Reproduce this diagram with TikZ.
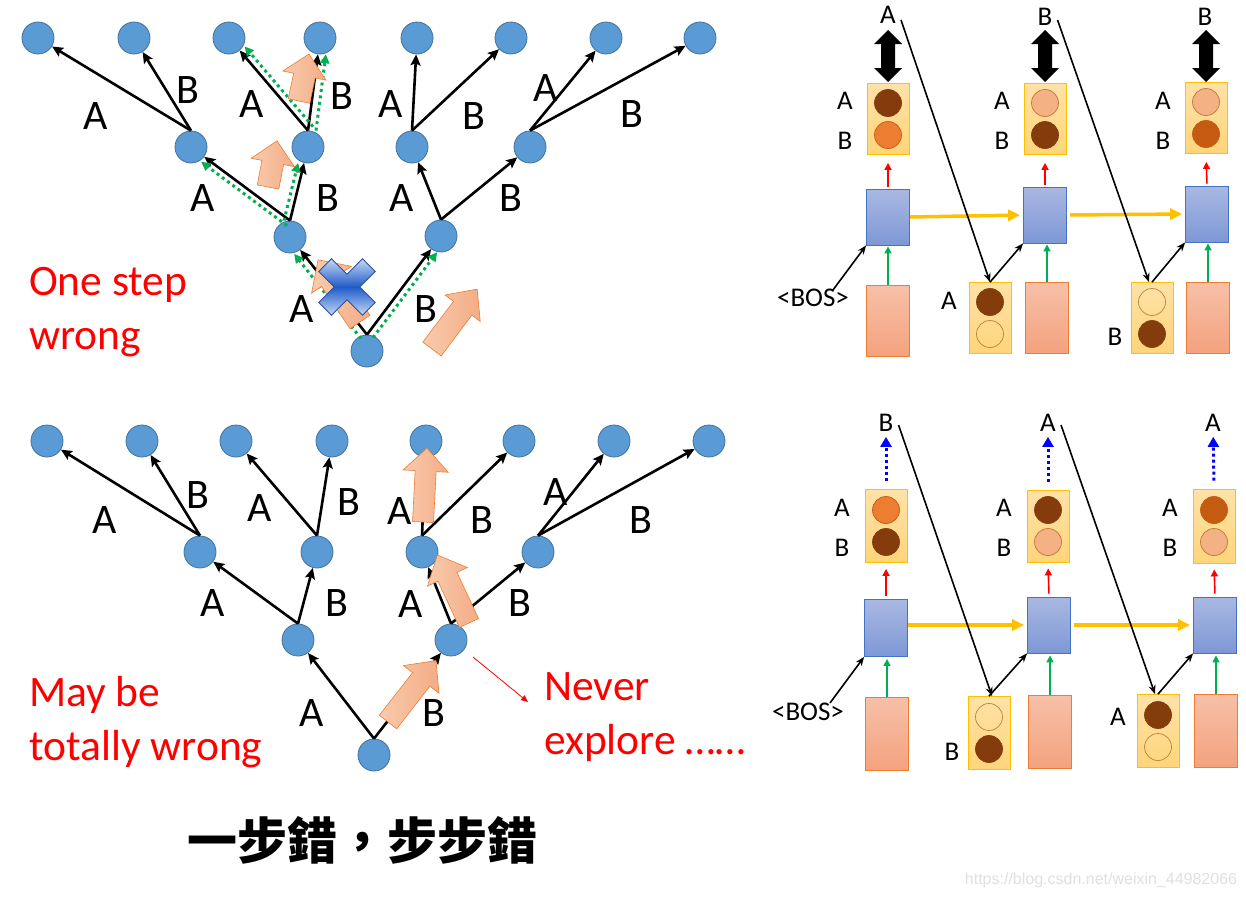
\documentclass[tikz,border=0pt]{standalone}
\usepackage{fontspec}
\setmainfont{Carlito}
\newfontfamily\cjkfont{Noto Sans CJK TC}
\newfontfamily\wmfont{Liberation Sans}
\usetikzlibrary{arrows.meta,calc}
\definecolor{nodeblue}{HTML}{5B9BD5}
\definecolor{nodeborder}{HTML}{41719C}
\definecolor{dgreen}{HTML}{00B050}
\definecolor{arrL}{HTML}{F8CBAD}
\definecolor{arrR}{HTML}{F4AC86}
\definecolor{arrD}{HTML}{ED7D31}
\definecolor{ybT}{HTML}{FFE2A8}
\definecolor{ybB}{HTML}{FFD57A}
\definecolor{yborder}{HTML}{FFC000}
\definecolor{bbT}{HTML}{A9B8E2}
\definecolor{bbB}{HTML}{7E98D6}
\definecolor{bborder}{HTML}{4472C4}
\definecolor{pbT}{HTML}{F7C0A8}
\definecolor{pbB}{HTML}{F4A27E}
\definecolor{pborder}{HTML}{ED7D31}
\definecolor{dkbrown}{HTML}{843C0C}
\definecolor{orng}{HTML}{ED7D31}
\definecolor{orngb}{HTML}{C55A11}
\definecolor{dorng}{HTML}{C55A11}
\definecolor{salm}{HTML}{F4B183}
\definecolor{salmb}{HTML}{C0763A}
\definecolor{holb}{HTML}{C0803A}
\definecolor{yarrow}{HTML}{FFC000}
\definecolor{bluedot}{HTML}{0000FF}
\definecolor{xborder}{HTML}{2F4F9F}
\definecolor{xlight}{HTML}{C4DAF6}
\definecolor{xdark}{HTML}{1F5BC8}

\tikzset{
  tn/.style={circle,fill=nodeblue,draw=nodeborder,line width=0.8pt,minimum size=32pt,inner sep=0pt},
  edge/.style={line width=2.6pt,-{Stealth[length=11pt,width=10pt,inset=2pt]}},
  gdot/.style={draw=dgreen,line width=3pt,dash pattern=on 3pt off 3.5pt,-{Triangle[length=9pt,width=9pt,fill=dgreen]}},
  lab/.style={font=\fontsize{42}{42}\selectfont,inner sep=0pt},
  redtxt/.style={font=\fontsize{43.5}{54}\selectfont,text=red,align=left,inner sep=0pt},
  rlab/.style={font=\fontsize{27}{27}\selectfont,inner sep=1pt},
  ybox/.style={draw=yborder,line width=0.8pt,top color=ybT,bottom color=ybB,minimum width=42pt,minimum height=71pt,inner sep=0pt},
  bbox/.style={draw=bborder,line width=0.8pt,top color=bbT,bottom color=bbB,minimum width=43pt,minimum height=56pt,inner sep=0pt},
  pbox/.style={draw=pborder,line width=0.8pt,top color=pbT,bottom color=pbB,minimum width=43pt,minimum height=71pt,inner sep=0pt},
  lamp/.style={circle,minimum size=27pt,inner sep=0pt,line width=0.7pt},
  dk/.style={lamp,fill=dkbrown,draw=dkbrown},
  og/.style={lamp,fill=orng,draw=orngb},
  dog/.style={lamp,fill=dorng,draw=dorng},
  sal/.style={lamp,fill=salm,draw=salmb},
  hol/.style={lamp,draw=holb},
  blk/.style={line width=1.6pt,-{Stealth[length=9pt,width=7pt]}},
  redarr/.style={draw=red,line width=1.6pt,-{Triangle[length=7pt,width=7pt]}},
  grnarr/.style={draw=dgreen,line width=1.6pt,-{Triangle[length=7pt,width=7pt]}},
  yarr/.style={draw=yarrow,line width=3.5pt,-{Triangle[length=12pt,width=11pt]}},
  bdot/.style={draw=bluedot,line width=3pt,dash pattern=on 3pt off 3pt,-{Triangle[length=10pt,width=11pt,fill=bluedot]}},
}

% block arrow: x y angle length bodywidth headwidth headlength
\newcommand\blockarr[7]{%
  \begin{scope}[shift={(#1,#2)},rotate=#3]
    \path[draw=arrD,line width=0.6pt,left color=arrL,right color=arrR]
      (0,{#5/2}) -- ({#4-#7},{#5/2}) -- ({#4-#7},{#6/2}) -- (#4,0)
      -- ({#4-#7},{-#6/2}) -- ({#4-#7},{-#5/2}) -- (0,{-#5/2}) -- cycle;
  \end{scope}}
% vertical double arrow: x ytop ybot
\newcommand\dblarr[3]{%
  \fill[black] (#1,#2) -- ({#1+14},{#2+14}) -- ({#1+7},{#2+14}) -- ({#1+7},{#3-14})
    -- ({#1+14},{#3-14}) -- (#1,#3) -- ({#1-14},{#3-14}) -- ({#1-7},{#3-14})
    -- ({#1-7},{#2+14}) -- ({#1-14},{#2+14}) -- cycle;}
% blue cross mark at x y
\newcommand\bluecross[2]{%
  \begin{scope}[shift={(#1,#2)}]
    \path[draw=xborder,line width=0.9pt,top color=xlight,bottom color=xlight,middle color=xdark]
      (0,12.73) -- (-15.56,28.28) -- (-28.28,15.56) -- (-12.73,0) -- (-28.28,-15.56)
      -- (-15.56,-28.28) -- (0,-12.73) -- (15.56,-28.28) -- (28.28,-15.56)
      -- (12.73,0) -- (28.28,15.56) -- (15.56,28.28) -- cycle;
  \end{scope}}

\begin{document}
\begin{tikzpicture}[x=1pt,y=-1pt]
\fill[white] (0,0) rectangle (1246,900);
\useasboundingbox (0,0) rectangle (1246,900);

%================ TOP TREE =================
\node[tn] (t0) at (367,351) {};
\node[tn] (t1) at (290,237) {};
\node[tn] (t2) at (441,236) {};
\node[tn] (t3) at (191,147) {};
\node[tn] (t4) at (308,147) {};
\node[tn] (t5) at (412,147) {};
\node[tn] (t6) at (530,147) {};
\foreach \i/\x in {7/38,8/134,9/229,10/320,11/417,12/511,13/606,14/700}
  \node[tn] (t\i) at (\x,38) {};
\draw[edge] (t0.north) -- (t1);
\draw[edge] (t0.north) -- (t2);
\draw[edge] (t1.north) -- (t3);
\draw[edge] (t1.north) -- (t4);
\draw[edge] (t2.north) -- (t5);
\draw[edge] (t2.north) -- (t6);
\draw[edge] (t3.north) -- (t7);
\draw[edge] (t3.north) -- (t8);
\draw[edge] (t4.north) -- (t9);
\draw[edge] (t4.north) -- (t10);
\draw[edge] (t5.north) -- (t11);
\draw[edge] (t5.north) -- (t12);
\draw[edge] (t6.north) -- (t13);
\draw[edge] (t6.north) -- (t14);
% green dotted paths
\draw[gdot,transform canvas={xshift=-6pt,yshift=-4pt}] (t0.north) -- (t1);
\draw[gdot,transform canvas={xshift=6pt,yshift=-3pt}] (t0.north) -- (t2);
\draw[gdot,transform canvas={xshift=-3pt,yshift=-5pt}] (t1.north) -- (t3);
\draw[gdot,transform canvas={xshift=-6pt}] (t1.north) -- (t4);
\draw[gdot,transform canvas={xshift=5pt,yshift=4pt}] (t4.north) -- (t9);
\draw[gdot,transform canvas={xshift=8pt}] (t4.north) -- (t10);
% labels
\node[lab] (ta1) at (96,116) {A};
\node[lab] (ta2) at (188,90) {B};
\node[lab] (ta3) at (252,104) {A};
\node[lab] (ta4) at (342,96) {B};
\node[lab] (ta5) at (391,104) {A};
\node[lab] (ta6) at (474,116) {B};
\node[lab] (ta7) at (546,88) {A};
\node[lab] (ta8) at (632,114) {B};
\node[lab] (ta9) at (203,198) {A};
\node[lab] (ta10) at (328,198) {B};
\node[lab] (ta11) at (402,198) {A};
\node[lab] (ta12) at (511,198) {B};
\node[lab] (ta13) at (302,309) {A};
\node[lab] (ta14) at (426,309) {B};
% block arrows
\blockarr{299}{101}{78}{48}{22}{44}{22}
\blockarr{268}{187}{79}{47}{22}{44}{22}
\blockarr{360}{322}{124}{75}{24}{48}{24}
\blockarr{432}{349}{53}{75}{23}{44}{24}
\bluecross{347}{287}
\node[redtxt,anchor=west] (txt1) at (29,312) {One step\\wrong};

%================ BOTTOM TREE =================
\node[tn] (b0) at (374,755) {};
\node[tn] (b1) at (298,640) {};
\node[tn] (b2) at (451,640) {};
\node[tn] (b3) at (200,552) {};
\node[tn] (b4) at (317,552) {};
\node[tn] (b5) at (422,552) {};
\node[tn] (b6) at (538,552) {};
\foreach \i/\x in {7/47,8/142,9/236,10/332,11/426,12/519,13/614,14/709}
  \node[tn] (b\i) at (\x,441) {};
\draw[edge] (b0.north) -- (b1);
\draw[edge] (b0.north) -- (b2);
\draw[edge] (b1.north) -- (b3);
\draw[edge] (b1.north) -- (b4);
\draw[edge] (b2.north) -- (b5);
\draw[edge] (b2.north) -- (b6);
\draw[edge] (b3.north) -- (b7);
\draw[edge] (b3.north) -- (b8);
\draw[edge] (b4.north) -- (b9);
\draw[edge] (b4.north) -- (b10);
\draw[edge] (b5.north) -- (b11);
\draw[edge] (b5.north) -- (b12);
\draw[edge] (b6.north) -- (b13);
\draw[edge] (b6.north) -- (b14);
\node[lab] (ba1) at (105,520) {A};
\node[lab] (ba2) at (198,495) {B};
\node[lab] (ba3) at (260,508) {A};
\node[lab] (ba4) at (349,502) {B};
\node[lab] (ba5) at (400,511) {A};
\node[lab] (ba6) at (482,520) {B};
\node[lab] (ba7) at (556,492) {A};
\node[lab] (ba8) at (641,520) {B};
\node[lab] (ba9) at (213,603) {A};
\node[lab] (ba10) at (337,603) {B};
\node[lab] (ba11) at (411,604) {A};
\node[lab] (ba12) at (520,603) {B};
\node[lab] (ba13) at (312,713) {A};
\node[lab] (ba14) at (434,713) {B};
\blockarr{423}{522}{87}{74}{21}{45}{23}
\blockarr{469}{623}{115}{75}{21}{44}{24}
\blockarr{388}{722}{52}{78}{22}{45}{24}
\node[redtxt,anchor=west] (txt2) at (29,722) {May be\\totally wrong};
\node[redtxt,anchor=west] (txt3) at (544,717) {Never\\explore \textellipsis\textellipsis};
\coordinate (nv1) at (473,657);
\coordinate (nv2) at (528,702);
\draw[draw=red,line width=0.8pt,-{Triangle[length=7pt,width=6pt]}] (nv1) -- (nv2);

\node[font=\cjkfont\bfseries\fontsize{50}{50}\selectfont,inner sep=0pt] (cjk) at (362,840) {一步錯，步步錯};

%================ TOP RIGHT =================
% column 1
\node[ybox] (o1) at (888,119) {};
\node[dk] (o1a) at ([yshift=16pt]o1.center) {};
\node[og] (o1b) at ([yshift=-16pt]o1.center) {};
\node[bbox] (h1) at (888,217) {};
\node[pbox] (p1) at (888,321) {};
\node[rlab] (l1a) at (845,101) {A};
\node[rlab] (l1b) at (845,141) {B};
\node[rlab] (tt1) at (888,15) {A};
\dblarr{888}{30}{82}
\node[rlab] (bos1) at (813,298) {<BOS>};
% column 2
\node[ybox] (i2) at (990,318) {};
\node[dk] (i2a) at ([yshift=16pt]i2.center) {};
\node[hol] (i2b) at ([yshift=-16pt]i2.center) {};
\node[rlab] (li2) at (949,301) {A};
\node[ybox] (o2) at (1045,119) {};
\node[sal] (o2a) at ([yshift=16pt]o2.center) {};
\node[dk] (o2b) at ([yshift=-16pt]o2.center) {};
\node[bbox] (h2) at (1045,215) {};
\node[pbox] (p2) at (1047,318) {};
\node[rlab] (l2a) at (1002,101) {A};
\node[rlab] (l2b) at (1002,141) {B};
\node[rlab] (tt2) at (1045,17) {B};
\dblarr{1045}{30}{82}
% column 3
\node[ybox] (i3) at (1152,318) {};
\node[hol] (i3a) at ([yshift=16pt]i3.center) {};
\node[dk] (i3b) at ([yshift=-16pt]i3.center) {};
\node[rlab] (li3) at (1115,337) {B};
\node[ybox] (o3) at (1206,118) {};
\node[sal] (o3a) at ([yshift=16pt]o3.center) {};
\node[dog] (o3b) at ([yshift=-16pt]o3.center) {};
\node[bbox] (h3) at (1207,214) {};
\node[pbox] (p3) at (1208,318) {};
\node[rlab] (l3a) at (1163,101) {A};
\node[rlab] (l3b) at (1163,141) {B};
\node[rlab] (tt3) at (1205,17) {B};
\dblarr{1206}{30}{82}
% arrows
\foreach \h/\o/\p in {h1/o1/p1,h2/o2/p2,h3/o3/p3}{
  \draw[redarr,shorten <=2pt,shorten >=8pt] (\h.north) -- (\o.south);
  \draw[grnarr,shorten >=1pt] (\p.north) -- (\p.north |- \h.south);
}
\draw[yarr,shorten >=3pt] (h1.east) -- (h2.west);
\draw[yarr,shorten <=3pt,shorten >=3pt] (h2.east) -- (h3.west);
\draw[blk] ($(bos1.north)+(20,2)$) -- (h1.south west);
\draw[blk] (i2.north) -- (h2.south west);
\draw[blk] (i3.north) -- (h3.south west);
\draw[blk] ($(tt1.east)+(4,5)$) -- (i2.north);
\draw[blk] ($(tt2.east)+(4,3)$) -- ([xshift=-3pt]i3.north);

%================ BOTTOM RIGHT =================
% column 1
\node[ybox,minimum height=73pt] (o4) at (886,526) {};
\node[og] (o4a) at ([yshift=16pt]o4.center) {};
\node[dk] (o4b) at ([yshift=-16pt]o4.center) {};
\node[bbox,minimum height=57pt] (h4) at (886,628) {};
\node[pbox,minimum height=73pt] (p4) at (887,734) {};
\node[rlab] (l4a) at (842,508) {A};
\node[rlab] (l4b) at (842,548) {B};
\node[rlab] (tb1) at (886,423) {B};
\node[rlab] (bos2) at (808,712) {<BOS>};
% column 2
\node[ybox,minimum height=73pt] (i5) at (989,733) {};
\node[hol] (i5a) at ([yshift=16pt]i5.center) {};
\node[dk] (i5b) at ([yshift=-16pt]i5.center) {};
\node[rlab] (li5) at (952,752) {B};
\node[ybox,minimum height=72pt] (o5) at (1048,526) {};
\node[dk] (o5a) at ([yshift=16pt]o5.center) {};
\node[sal] (o5b) at ([yshift=-16pt]o5.center) {};
\node[bbox] (h5) at (1049,625) {};
\node[pbox,minimum height=73pt] (p5) at (1050,732) {};
\node[rlab] (l5a) at (1004,508) {A};
\node[rlab] (l5b) at (1004,548) {B};
\node[rlab] (tb2) at (1048,423) {A};
% column 3
\node[ybox,minimum height=73pt] (i6) at (1158,731) {};
\node[dk] (i6a) at ([yshift=16pt]i6.center) {};
\node[hol] (i6b) at ([yshift=-16pt]i6.center) {};
\node[rlab] (li6) at (1118,717) {A};
\node[ybox,minimum height=74pt] (o6) at (1214,526) {};
\node[dog] (o6a) at ([yshift=16pt]o6.center) {};
\node[sal] (o6b) at ([yshift=-16pt]o6.center) {};
\node[bbox] (h6) at (1215,625) {};
\node[pbox,minimum height=73pt] (p6) at (1216,731) {};
\node[rlab] (l6a) at (1170,508) {A};
\node[rlab] (l6b) at (1170,548) {B};
\node[rlab] (tb3) at (1213,423) {A};
% arrows
\foreach \h/\o/\p/\t in {h4/o4/p4/tb1,h5/o5/p5/tb2,h6/o6/p6/tb3}{
  \draw[redarr,shorten <=3pt,shorten >=6pt] (\h.north) -- (\o.south);
  \draw[grnarr,shorten >=2pt] (\p.north) -- (\p.north |- \h.south);
  \draw[bdot,shorten <=8pt,shorten >=4pt] (\o.north) -- (\t);
}
\draw[yarr,shorten >=3pt] (h4.east |- h5.west) -- (h5.west);
\draw[yarr,shorten <=3pt,shorten >=3pt] (h5.east) -- (h6.west);
\draw[blk] ($(bos2.north)+(22,1)$) -- (h4.south west);
\draw[blk] (i5.north) -- (h5.south west);
\draw[blk] (i6.north) -- (h6.south west);
\draw[blk] ($(tb1.east)+(4,2)$) -- ([xshift=3pt]i5.north);
\draw[blk] ($(tb2.east)+(4,2)$) -- ([xshift=-3pt]i6.north);

\node[font=\wmfont\fontsize{16}{16}\selectfont,text=black!12,inner sep=0pt] (wm) at (1101,880) {https://blog.csdn.net/weixin\_44982066};
\end{tikzpicture}
\end{document}
